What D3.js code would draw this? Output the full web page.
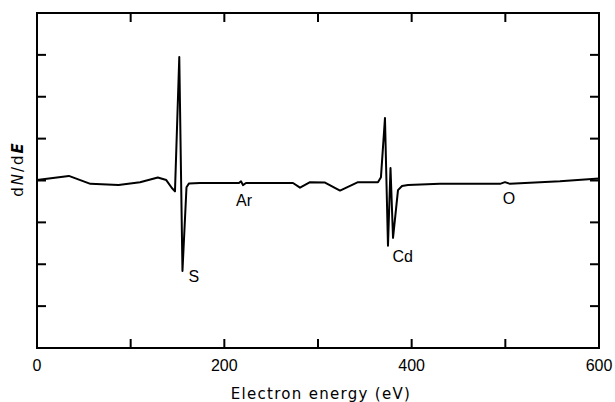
<!DOCTYPE html>
<html>
<head>
<meta charset="utf-8">
<script src="https://cdn.jsdelivr.net/npm/d3@7"></script>
<style>
	body { margin: 0; background: #fff; }
	svg text { font-family: "Liberation Sans", Arial, sans-serif; fill: #000; }
</style>
</head>
<body>
<div id="chart"></div>
<script>
// Spectrum (energy in eV, signal in tick units)
var energy = [0, 34, 57, 87, 110, 129, 138, 144, 147.3, 151.9, 155.3, 159.6, 162.3, 174,
	215.6, 217.8, 219.9, 223.1, 273.3, 280.8, 291.5, 307.5, 323.5, 342.7,
	364, 367.2, 371.5, 374.7, 377.4, 380.1, 385.4, 389.7, 396.1, 430.2,
	494.3, 499.6, 505, 558.3, 600];
var signal = [0.01, 0.11, -0.08, -0.11, -0.04, 0.07, 0.01, -0.18, -0.26, 2.95, -2.16, -0.16, -0.07, -0.06,
	-0.06, -0.02, -0.11, -0.06, -0.06, -0.17, -0.04, -0.05, -0.24, -0.04,
	-0.04, 0.08, 1.49, -1.56, 0.30, -1.37, -0.23, -0.13, -0.11, -0.08,
	-0.08, -0.04, -0.08, -0.02, 0.05];

var peakNames = ["S", "Ar", "Cd", "O"];
var peakEnergy = [167.5, 221, 390.5, 504];
var peakSignal = [-2.42, -0.61, -1.95, -0.56];

var xTicks = [0, 100, 200, 300, 400, 500, 600];
var xTickLabels = ["0", "", "200", "", "400", "", "600"];
var yTicks = [-3, -2, -1, 0, 1, 2, 3];

var chartW = 615, chartH = 402;
// frame edges (note: "top" is reserved on window, so use plot* names)
var plotL = 37, plotR = 599, plotT = 13, plotB = 348;
var tickLen = 9;

var svg = d3.select("#chart").append("svg")
	.attr("width", chartW)
	.attr("height", chartH);

var x = d3.scaleLinear().domain([0, 600]).range([plotL, plotR]);
var y = d3.scaleLinear().domain([-4, 4]).range([plotB, plotT]);

// Frame
svg.append("rect")
	.attr("x", plotL)
	.attr("y", plotT)
	.attr("width", plotR - plotL)
	.attr("height", plotB - plotT)
	.attr("fill", "none")
	.attr("stroke", "#000")
	.attr("stroke-width", 2);

// Inward ticks on all four sides
var inner = xTicks.slice(1, -1);
svg.append("g").selectAll("line").data(inner).enter().append("line")
	.attr("x1", function(d) { return x(d); })
	.attr("x2", function(d) { return x(d); })
	.attr("y1", plotB)
	.attr("y2", plotB - tickLen);
svg.append("g").selectAll("line").data(inner).enter().append("line")
	.attr("x1", function(d) { return x(d); })
	.attr("x2", function(d) { return x(d); })
	.attr("y1", plotT)
	.attr("y2", plotT + tickLen);
svg.append("g").selectAll("line").data(yTicks).enter().append("line")
	.attr("x1", plotL)
	.attr("x2", plotL + tickLen)
	.attr("y1", function(d) { return y(d); })
	.attr("y2", function(d) { return y(d); });
svg.append("g").selectAll("line").data(yTicks).enter().append("line")
	.attr("x1", plotR)
	.attr("x2", plotR - tickLen)
	.attr("y1", function(d) { return y(d); })
	.attr("y2", function(d) { return y(d); });
svg.selectAll("g line")
	.attr("stroke", "#000")
	.attr("stroke-width", 2);

// Tick labels
svg.append("g").selectAll("text").data(xTicks).enter().append("text")
	.attr("x", function(d) { return x(d); })
	.attr("y", 371)
	.attr("text-anchor", "middle")
	.style("font-size", "16px")
	.text(function(d, i) { return xTickLabels[i]; });

// Axis titles
svg.append("text")
	.attr("x", 321)
	.attr("y", 399)
	.attr("text-anchor", "middle")
	.style("font-family", "DejaVu Sans")
	.style("font-size", "15px")
	.style("letter-spacing", "1.3px")
	.text("Electron energy (eV)");

var ylab = svg.append("text")
	.attr("transform", "translate(23,169) rotate(-90)")
	.attr("text-anchor", "middle")
	.style("font-family", "DejaVu Sans")
	.style("font-size", "15px")
	.style("letter-spacing", "2px");
ylab.append("tspan").text("d");
ylab.append("tspan").style("font-style", "italic").text("N");
ylab.append("tspan").text("/d");
ylab.append("tspan").style("font-style", "italic").style("font-weight", "bold").text("E");

// Spectrum
var line = d3.line()
	.x(function(d, i) { return x(energy[i]); })
	.y(function(d) { return y(d); });

svg.append("path")
	.datum(signal)
	.attr("d", line)
	.attr("fill", "none")
	.attr("stroke", "#000")
	.attr("stroke-width", 2)
	.attr("stroke-linejoin", "round");

// Peak names
svg.append("g").selectAll("text").data(peakNames).enter().append("text")
	.attr("x", function(d, i) { return x(peakEnergy[i]); })
	.attr("y", function(d, i) { return y(peakSignal[i]); })
	.attr("text-anchor", "middle")
	.style("font-size", "16px")
	.text(function(d) { return d; });
</script>
</body>
</html>
